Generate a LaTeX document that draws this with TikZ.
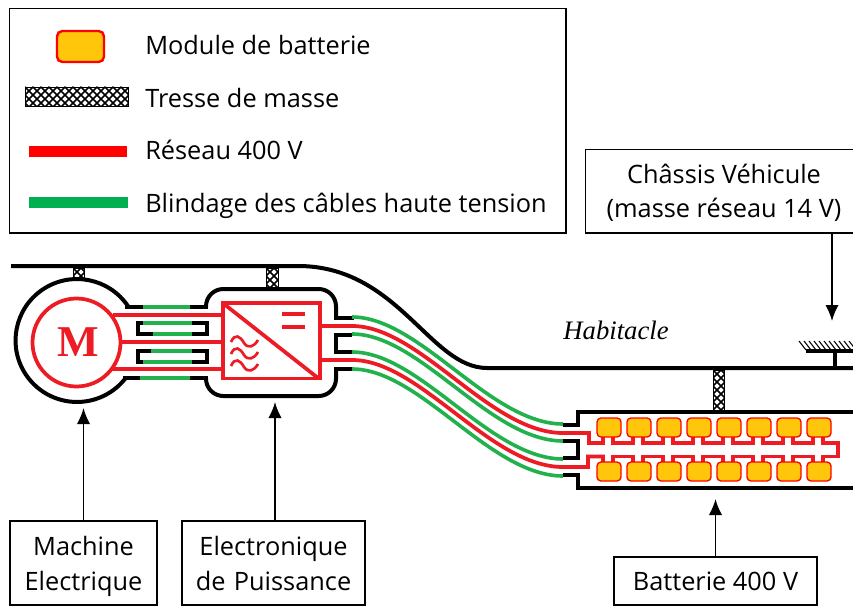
\documentclass[tikz,border=0pt]{standalone}
\usepackage{fontspec}
\setmainfont{Open Sans}
\newfontfamily\serifit{Liberation Serif}
\definecolor{cred}{HTML}{ED1C24}
\definecolor{cgreen}{HTML}{22B14C}
\definecolor{lred}{HTML}{FF0000}
\definecolor{lgreen}{HTML}{00B050}
\definecolor{modfill}{HTML}{FFC60B}
\newcommand{\tressebar}[4]{%
  \begin{scope}
    \clip (#1,#2) rectangle (#3,#4);
    \fill[white] (#1,#2) rectangle (#3,#4);
    \foreach \k in {-64,-56,...,136}{
      \draw[black,line width=1.1pt] (#1+\k,#2) -- ++(60,60);
      \draw[black,line width=1.1pt] (#1+\k,#2) -- ++(-60,60);
    }
  \end{scope}
  \draw[black,line width=0.6pt] (#1,#2) rectangle (#3,#4);
}
\newcommand{\tallline}{\rule{0pt}{22.7pt}}
\tikzset{
  blk/.style={draw=black,line width=3pt,line cap=rect},
  grn/.style={draw=cgreen,line width=2.7pt},
  rd/.style={draw=cred,line width=2.8pt},
  labelbox/.style={draw=black,line width=1.1pt,fill=white,align=center,font=\fontsize{19}{26}\selectfont,inner sep=0pt},
  legendtext/.style={anchor=base west,font=\fontsize{19}{22}\selectfont,inner sep=0pt},
  module/.style={draw=lred,fill=modfill,line width=1pt,rounded corners=3pt},
  arrowline/.style={draw=black,line width=1.3pt,-{Latex[length=12pt,width=10pt]}},
}
\usetikzlibrary{arrows.meta}
\begin{document}
\begin{tikzpicture}[x=0.75pt,y=-0.75pt]
\useasboundingbox (0,0) rectangle (853,606);
\fill[white] (0,0) rectangle (853,606);

% legend
\draw[black,line width=1.1pt] (9.5,8.5) rectangle (566,233);
\draw[draw=lred,fill=modfill,line width=1.8pt,rounded corners=4pt] (57,31) rectangle (104,62);
\tressebar{25}{87}{128}{106}
\fill[lred] (29,146) rectangle (127,157);
\fill[lgreen] (29,197) rectangle (128,208);
\node[legendtext] (l1) at (145,55) {Module de batterie};
\node[legendtext] (l2) at (145,108) {Tresse de masse};
\node[legendtext] (l3) at (145,160) {Réseau 400 V};
\node[legendtext] (l4) at (145,213) {Blindage des câbles haute tension};

% chassis lines
\draw[blk,line cap=butt] (11,266) -- (298,266) .. controls (398,266) and (430,368) .. (487,368) -- (853,368);
\draw[blk,line cap=butt] (835,368) -- (835,351);
\draw[blk,line cap=butt] (806,351) -- (853,351);
\foreach \h in {806,811,...,856}{\draw[black,line width=0.8pt] (\h-7,341) -- (\h,350);}

% braids
\tressebar{73}{268}{84}{279}
\tressebar{266}{268}{278}{289}
\tressebar{713}{370}{724}{412}

% motor casing
\draw[blk,line cap=butt] (77,340.5) ++(34:46.1pt) arc[start angle=34,end angle=322,radius=46.1pt];
\draw[blk] (127,307) -- (143,307);
\draw[blk] (125,378) -- (140,378);
\draw[grn] (143,307) -- (192,307);
\draw[grn] (140,378) -- (192,378);
\draw[blk] (192,307) -- (206,307);
\draw[blk] (192,378) -- (206,378);

% power electronics casing
\draw[blk,line cap=butt,rounded corners=13pt] (206,307) -- (206,289) -- (336,289) -- (336,318);
\draw[blk,line cap=butt,rounded corners=13pt] (206,378) -- (206,396) -- (336,396) -- (336,369);
\draw[blk] (336,318) -- (352,318);
\draw[blk] (336,369) -- (352,369);
\draw[blk,line cap=butt,line join=miter] (352,334.5) -- (336,334.5) -- (336,352) -- (352,352);

% inner shields
\draw[blk,line cap=butt,line join=miter] (143,323) -- (138,323) -- (138,334) -- (153,334);
\draw[blk,line cap=butt,line join=miter] (151,351) -- (138,351) -- (138,362) -- (143,362);
\draw[blk,line cap=butt,line join=miter] (192,323) -- (207,323) -- (207,334) -- (192,334);
\draw[blk,line cap=butt,line join=miter] (192,351) -- (207,351) -- (207,362) -- (192,362);
\draw[grn] (143,323) -- (192,323);
\draw[grn] (153,334) -- (192,334);
\draw[grn] (151,351) -- (192,351);
\draw[grn] (143,362) -- (192,362);

% motor
\draw[rd] (76.5,342.5) ellipse [x radius=33pt,y radius=33pt];
\node[inner sep=0pt,text=cred] (m) at (78,342) {\fontsize{33}{33}\selectfont\serifit\bfseries M};
\draw[rd] (113,315) -- (222,315);
\draw[rd] (121,342) -- (222,342);
\draw[rd] (112,369) -- (222,369);

% converter
\draw[rd] (223,303) rectangle (320,378.5);
\draw[rd] (224,304) -- (318,378);
\draw[rd] (282,314) -- (305,314);
\draw[rd] (282,327) -- (305,327);
\foreach \yy in {341,353,365}{
  \draw[draw=cred,line width=2pt] (231,\yy+1) .. controls (235,\yy-8) and (240,\yy-5) .. (244,\yy+2) .. controls (248,\yy+8) and (254,\yy+6) .. (258,\yy-1);
}

% cables to battery
\foreach \o in {0,17,35,52}{
  \draw[grn] (352,317+\o) .. controls (420,317+\o) and (490,424+\o) .. (563,424+\o);
}
\draw[rd,line join=miter] (321,326) -- (352,326) .. controls (420,326) and (490,433) .. (563,433) -- (589,433) -- (589,443) -- (603,443) -- (603,437);
\draw[rd,line join=miter] (321,360) -- (352,360) .. controls (420,360) and (490,467) .. (563,467) -- (588,467) -- (588,456.5) -- (603,456.5) -- (603,462);

% battery casing
\draw[blk,line cap=butt,line join=miter] (563,425) -- (578,425) -- (578,412) -- (853,412);
\draw[blk,line cap=butt,line join=miter] (563,475) -- (578,475) -- (578,488) -- (853,488);
\draw[blk,line cap=butt,line join=miter] (563,441) -- (578,441) -- (578,458) -- (563,458);

% battery wiring
\foreach \a in {613,643,...,793}{
  \draw[rd,line join=miter] (\a,437) -- (\a,443) -- (\a+20,443) -- (\a+20,437);
  \draw[rd,line join=miter] (\a,462) -- (\a,456.5) -- (\a+20,456.5) -- (\a+20,462);
}
\draw[rd,line join=miter] (823,437) -- (823,443) -- (838,443) -- (838,456.5) -- (823,456.5) -- (823,462);

% modules
\foreach \a in {597,627,...,807}{
  \draw[module] (\a,418) rectangle (\a+24,437);
  \draw[module] (\a,462) rectangle (\a+24,481);
}

% labels
\node[inner sep=0pt,font=\fontsize{20}{24}\selectfont\serifit\itshape] (hab) at (616,330) {Habitacle};
\node[labelbox,minimum width=110pt,minimum height=63pt,text width=110pt] (mach) at (83.5,563) {\tallline Machine\\\strut Electrique};
\node[labelbox,minimum width=137pt,minimum height=63pt,text width=137pt] (elec) at (273.5,563) {\tallline Electronique\\\strut de Puissance};
\node[labelbox,minimum width=152pt,minimum height=36pt] (batt) at (715.5,581) {Batterie 400 V};
\draw[black,line width=1.1pt,fill=white] (853,149.5) -- (585.5,149.5) -- (585.5,233) -- (853,233);
\node[align=center,inner sep=0pt,font=\fontsize{19}{26}\selectfont] (chassis) at (724,193.7) {\strut Châssis Véhicule\\\strut (masse réseau 14 V)};
\coordinate (c1) at (83.5,408);
\coordinate (c2) at (275,402);
\coordinate (c3) at (715.5,499);
\coordinate (c4) at (832,321);
\coordinate (c4s) at (832,233);
\draw[arrowline] (mach.north) -- (c1);
\draw[arrowline] (elec.north -| c2) -- (c2);
\draw[arrowline] (batt.north) -- (c3);
\draw[arrowline] (c4s) -- (c4);
\end{tikzpicture}
\end{document}
